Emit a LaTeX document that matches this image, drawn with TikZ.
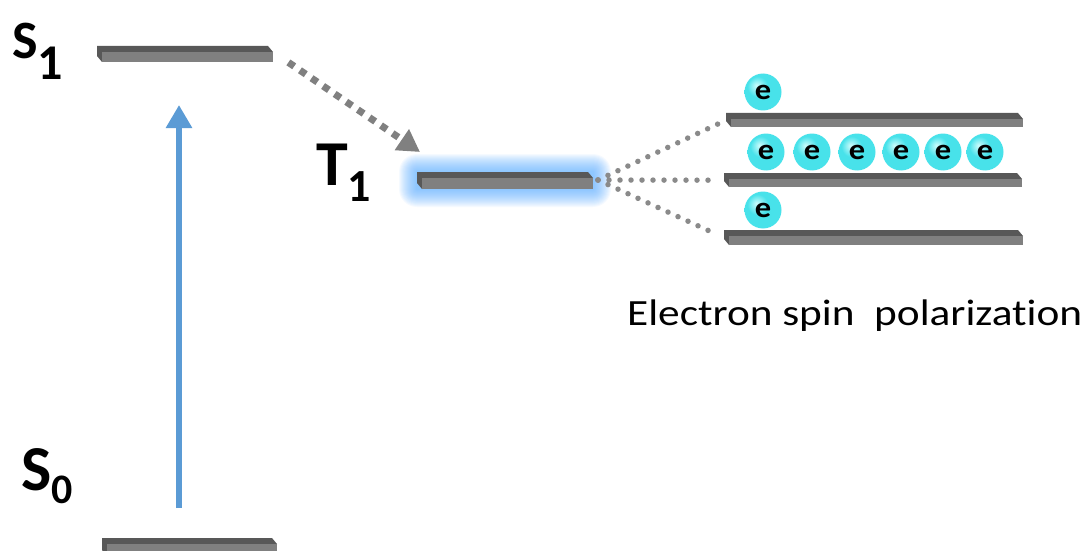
\documentclass[tikz,border=0pt]{standalone}
\usepackage{fontspec}
\setmainfont{Carlito}
\newfontfamily\capfont[FakeStretch=1.17, Ligatures=NoCommon]{Carlito}
\newfontfamily\efont[FakeStretch=1.12]{Carlito}
\usetikzlibrary{arrows.meta}
\definecolor{slabtop}{RGB}{88,88,88}
\definecolor{slabfront}{RGB}{128,128,128}
\definecolor{arrowblue}{RGB}{91,155,213}
\definecolor{dotgray}{RGB}{138,138,138}
\definecolor{dashgray}{RGB}{128,128,128}
\definecolor{ecyan}{RGB}{72,226,234}
\definecolor{edark}{RGB}{24,150,168}
\definecolor{ehi}{RGB}{205,252,252}
\definecolor{glowblue}{RGB}{90,175,255}
\pgfdeclareradialshading{eballshade}{\pgfpoint{-9bp}{9bp}}{color(0bp)=(ehi); color(14bp)=(ecyan); color(40bp)=(ecyan); color(58bp)=(edark); color(70bp)=(edark)}
% slab: name, x1, y1, x2, y2
\newcommand\slab[5]{%
  \node[inner sep=0pt, minimum width={#4-#2}, minimum height={#5-#3}, anchor=north west] (#1) at (#2,#3) {};
  \fill[slabtop] (#2,#3) -- ({#4-5},#3) -- (#4,{#3+6}) -- ({#2+5},{#3+6}) -- ({#2+5},#5) -- (#2,{#5-6}) -- cycle;
  \fill[slabfront] ({#2+5},{#3+6}) rectangle (#4,#5);
}
\tikzset{
  lab/.style={inner sep=0pt, anchor=base west, font=\bfseries},
  eball/.style={circle, minimum size=37pt, inner sep=0pt, shading=eballshade, font=\efont\fontsize{29}{29}\selectfont\bfseries},
  excite/.style={arrowblue, line width=6pt, -{Triangle[width=25pt,length=23pt]}},
  isc/.style={dashgray, line width=7pt, dash pattern=on 7pt off 7pt, -{Triangle[width=24pt,length=22pt]}},
  split/.style={dotgray, line width=5.5pt, line cap=round, dash pattern=on 0pt off 11pt, shorten >=9pt},
}
\begin{document}
\begin{tikzpicture}[x=1pt,y=-1pt]
\useasboundingbox (0,0) rectangle (1088,551);
\clip (0,0) rectangle (1088,551);
\fill[white] (0,0) rectangle (1088,551);

% glow behind T1
\foreach \e in {1,2,...,18}{
  \fill[glowblue, opacity=0.055, rounded corners=\e pt] ({417-\e},{172-\e}) rectangle ({593+\e},{189+\e});
}

% levels
\slab{S1bar}{97}{46}{273}{62}
\slab{S0bar}{102}{538}{277}{556}
\slab{T1bar}{417}{172}{593}{189}
\slab{R1bar}{726}{113}{1023}{127}
\slab{R2bar}{724}{173}{1022}{187}
\slab{R3bar}{724}{230}{1023}{245}

% labels
\node[lab] (S1) at (12,59) {\fontsize{54}{54}\selectfont S\raisebox{-21pt}{\fontsize{50}{50}\selectfont 1}};
\node[lab] (T1) at (316,185) {\fontsize{64}{64}\selectfont T\raisebox{-17pt}{\fontsize{46}{46}\selectfont 1}};
\node[lab] (S0) at (21,490) {\fontsize{64}{64}\selectfont S\raisebox{-13pt}{\fontsize{42}{42}\selectfont 0}};

% excitation arrow
\coordinate (exstart) at (179,508);
\coordinate (exend) at (179,105);
\draw[excite] (exstart) -- (exend);

% intersystem crossing
\draw[isc] ([xshift=15pt]S1bar.south east) -- ([xshift=3pt,yshift=20pt]T1bar.north west);

% splitting lines
\coordinate (T1end) at (598,180);
\draw[split] (T1end) -- (R1bar.west);
\draw[split] (T1end) -- (R2bar.west);
\draw[split] (T1end) -- (R3bar.west);

% electrons
\node[eball] (e1) at (763,92) {e};
\node[eball] (e2) at (766,152) {e};
\node[eball] (e3) at (812,152) {e};
\node[eball] (e4) at (857,152) {e};
\node[eball] (e5) at (901,152) {e};
\node[eball] (e6) at (943,152) {e};
\node[eball] (e7) at (985,152) {e};
\node[eball] (e8) at (763,210) {e};

% caption
\node[inner sep=0pt, anchor=base west, font=\capfont\fontsize{37}{37}\selectfont] (cap) at (627,325) {Electron spin~ polarization};
\end{tikzpicture}
\end{document}
